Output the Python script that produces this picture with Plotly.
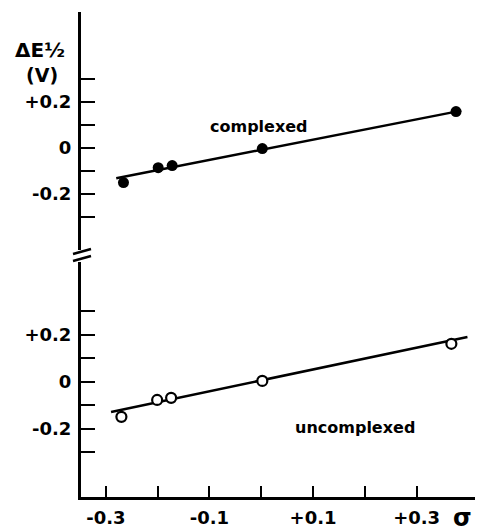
import plotly.graph_objects as go

# Data
sigma_complexed = [-0.266, -0.199, -0.172, 0.002, 0.376]
dE_complexed = [-0.152, -0.087, -0.078, -0.004, 0.157]
fit_complexed_x = [-0.280, 0.386]
fit_complexed_y = [-0.133, 0.161]

sigma_uncomplexed = [-0.270, -0.201, -0.174, 0.002, 0.367]
dE_uncomplexed = [-0.149, -0.077, -0.068, 0.004, 0.162]
fit_uncomplexed_x = [-0.290, 0.398]
fit_uncomplexed_y = [-0.128, 0.191]

x_tickvals = [-0.3, -0.2, -0.1, 0.0, 0.1, 0.2, 0.3]
x_ticktext = ["-0.3", "", "-0.1", "", "+0.1", "", "+0.3"]
y_tickvals = [-0.3, -0.2, -0.1, 0.0, 0.1, 0.2, 0.3]
y_ticktext = ["", "-0.2", "", "0", "", "+0.2", ""]

W, H = 478, 531
ML, MR, MT, MB = 81, 3, 12, 34
PW, PH = W - ML - MR, H - MT - MB


def px_x(p):
    return (p - ML) / PW


def px_y(p):
    return (H - MB - p) / PH


FONT = "DejaVu Sans"

fig = go.Figure()
fig.add_trace(go.Scatter(x=fit_complexed_x, y=fit_complexed_y, mode="lines",
                         line=dict(color="black", width=2.5), xaxis="x", yaxis="y",
                         showlegend=False, hoverinfo="skip"))
fig.add_trace(go.Scatter(x=sigma_complexed, y=dE_complexed, mode="markers",
                         marker=dict(color="black", size=11), xaxis="x", yaxis="y",
                         showlegend=False, name="complexed"))
fig.add_trace(go.Scatter(x=fit_uncomplexed_x, y=fit_uncomplexed_y, mode="lines",
                         line=dict(color="black", width=2.5), xaxis="x", yaxis="y2",
                         showlegend=False, hoverinfo="skip"))
fig.add_trace(go.Scatter(x=sigma_uncomplexed, y=dE_uncomplexed, mode="markers",
                         marker=dict(color="white", size=10, line=dict(color="black", width=2.2)),
                         xaxis="x", yaxis="y2", showlegend=False, name="uncomplexed"))

axis_common = dict(showgrid=False, zeroline=False, showline=True, linecolor="black",
                   linewidth=3, ticks="inside", tickcolor="black", tickwidth=2,
                   automargin=False,
                   tickfont=dict(family=FONT, size=18, color="black", weight="bold"))

upper_bottom = px_y(250)
lower_top = px_y(262)

fig.update_layout(
    width=W, height=H,
    margin=dict(l=ML, r=MR, t=MT, b=MB),
    plot_bgcolor="white", paper_bgcolor="white",
    xaxis=dict(domain=[0, 1], anchor="y2", range=[-0.348, -0.348 + PW / 518],
               tickvals=x_tickvals, ticktext=x_ticktext, ticklen=11, ticklabelstandoff=2,
               **axis_common),
    yaxis=dict(domain=[upper_bottom, 1], anchor="x", range=[-0.445, -0.445 + (250 - 12) / 230],
               tickvals=y_tickvals, ticktext=y_ticktext, ticklen=14, ticklabelstandoff=3,
               **axis_common),
    yaxis2=dict(domain=[0, lower_top], anchor="x", range=[-0.49, -0.49 + (497 - 262) / 235],
                tickvals=y_tickvals, ticktext=y_ticktext, ticklen=14, ticklabelstandoff=3,
                **axis_common),
)

# break marks on the vertical axis
for y0, y1 in [(254, 249), (261, 256)]:
    fig.add_shape(type="line", xref="paper", yref="paper",
                  x0=px_x(73), y0=px_y(y0), x1=px_x(91), y1=px_y(y1),
                  line=dict(color="black", width=2.5))


def label(text, cx, cy, size):
    fig.add_annotation(text=text, xref="paper", yref="paper",
                       x=px_x(cx), y=px_y(cy), xanchor="center", yanchor="middle",
                       showarrow=False,
                       font=dict(family=FONT, size=size, color="black", weight="bold"))


label("complexed", 259, 126, 16)
label("uncomplexed", 355, 427, 16)
label("σ", 462, 518, 24)
label("ΔE½", 40, 50, 20)
label("(V)", 42, 75, 19)

fig.write_html("out.html", config={"displayModeBar": False},
               post_script="document.body.style.margin='0px';")
